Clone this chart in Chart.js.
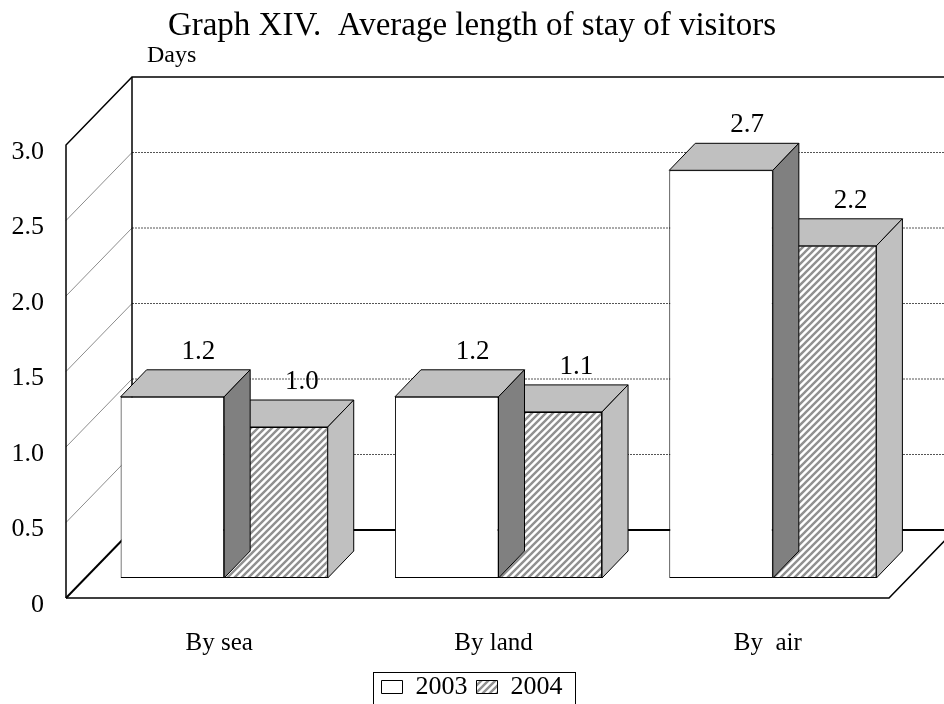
<!DOCTYPE html>
<html>
<head>
<meta charset="utf-8">
<script src="https://cdn.jsdelivr.net/npm/chart.js@4.4.1/dist/chart.umd.min.js"></script>
<style>
  html, body { margin: 0; padding: 0; background: #fff; }
  canvas { display: block; }
</style>
</head>
<body>
<canvas id="chart" width="944" height="704"></canvas>
<script>
// Average length of stay (days) by mode of arrival
const categories = ['By sea', 'By land', 'By  air'];
const stay2003 = [1.2, 1.2, 2.7];
const stay2004 = [1.0, 1.1, 2.2];
const seriesNames = ['2003', '2004'];
const yTickLabels = ['0', '0.5', '1.0', '1.5', '2.0', '2.5', '3.0'];

const SERIF = '"Liberation Serif", "Times New Roman", serif';

// 3-D geometry, in pixels, relative to the plane of the bar fronts
const DEPTH = { x: 26, y: -27 };   // depth of each bar
const FRONT = { x: -21, y: 20 };   // front edge of the floor / side wall
const BACK = { x: 45, y: -48 };    // back wall

function hatchPattern() {
  const s = 7;
  const c = document.createElement('canvas');
  c.width = s; c.height = s;
  const g = c.getContext('2d');
  g.fillStyle = '#ffffff';
  g.fillRect(0, 0, s, s);
  g.strokeStyle = '#909090';
  g.lineWidth = 2.4;
  g.beginPath();
  g.moveTo(-1, 1); g.lineTo(1, -1);
  g.moveTo(-1, s + 1); g.lineTo(s + 1, -1);
  g.moveTo(s - 1, s + 1); g.lineTo(s + 1, s - 1);
  g.stroke();
  return g.createPattern(c, 'repeat');
}

function line(ctx, x1, y1, x2, y2) {
  ctx.beginPath();
  ctx.moveTo(x1, y1);
  ctx.lineTo(x2, y2);
  ctx.stroke();
}

// side wall, back wall, floor and their gridlines
const wallsPlugin = {
  id: 'walls',
  beforeDatasetsDraw(chart) {
    const { ctx, chartArea: a, scales: { y } } = chart;
    const W = chart.width;
    const fx = a.left + FRONT.x;
    const bx = a.left + BACK.x;
    const yF = v => y.getPixelForValue(v) + FRONT.y;
    const yB = v => y.getPixelForValue(v) + BACK.y;
    ctx.save();
    ctx.lineWidth = 1;
    y.ticks.forEach(t => {
      const v = t.value;
      if (v <= y.min || v >= y.max) return;
      ctx.strokeStyle = '#8c8c8c';
      ctx.setLineDash([]);
      line(ctx, fx, yF(v), bx, yB(v));
      ctx.strokeStyle = '#555555';
      ctx.setLineDash([2, 1]);
      line(ctx, bx, yB(v), W, yB(v));
    });
    ctx.setLineDash([]);
    ctx.strokeStyle = '#000000';
    ctx.lineWidth = 1.5;
    // side wall outline
    ctx.beginPath();
    ctx.moveTo(fx, yF(0));
    ctx.lineTo(fx, yF(y.max));
    ctx.lineTo(bx, yB(y.max));
    ctx.lineTo(W, yB(y.max));
    ctx.stroke();
    line(ctx, bx, yB(y.max), bx, yB(0));
    // floor
    const rx = a.right + FRONT.x;
    ctx.beginPath();
    ctx.moveTo(fx, yF(0));
    ctx.lineTo(rx, yF(0));
    ctx.lineTo(rx + (BACK.x - FRONT.x), yF(0) + (BACK.y - FRONT.y));
    ctx.stroke();
    ctx.lineWidth = 2;
    line(ctx, fx, yF(0), bx, yB(0));
    line(ctx, bx, yB(0), W, yB(0));
    ctx.restore();
  }
};

// top and side faces of each bar
const barDepthPlugin = {
  id: 'barDepth',
  afterDatasetDraw(chart, args) {
    const { ctx } = chart;
    const sideColor = args.index === 0 ? '#808080' : '#c0c0c0';
    ctx.save();
    ctx.lineWidth = 1;
    ctx.strokeStyle = '#000000';
    ctx.lineJoin = 'miter';
    args.meta.data.forEach(el => {
      const p = el.getProps(['x', 'y', 'base', 'width'], true);
      const l = p.x - p.width / 2, r = p.x + p.width / 2;
      // top
      ctx.beginPath();
      ctx.moveTo(l, p.y);
      ctx.lineTo(l + DEPTH.x, p.y + DEPTH.y);
      ctx.lineTo(r + DEPTH.x, p.y + DEPTH.y);
      ctx.lineTo(r, p.y);
      ctx.closePath();
      ctx.fillStyle = '#c0c0c0';
      ctx.fill();
      ctx.stroke();
      // side
      ctx.beginPath();
      ctx.moveTo(r, p.y);
      ctx.lineTo(r + DEPTH.x, p.y + DEPTH.y);
      ctx.lineTo(r + DEPTH.x, p.base + DEPTH.y);
      ctx.lineTo(r, p.base);
      ctx.closePath();
      ctx.fillStyle = sideColor;
      ctx.fill();
      ctx.stroke();
    });
    ctx.restore();
  }
};

// value labels, unit label and legend frame
const labelsPlugin = {
  id: 'labels',
  afterDatasetsDraw(chart) {
    const { ctx } = chart;
    ctx.save();
    ctx.fillStyle = '#000000';
    ctx.font = '27px ' + SERIF;
    ctx.textAlign = 'center';
    ctx.textBaseline = 'alphabetic';
    chart.data.datasets.forEach((ds, i) => {
      chart.getDatasetMeta(i).data.forEach((el, j) => {
        ctx.fillText(ds.data[j].toFixed(1), el.x + DEPTH.x, el.y + DEPTH.y - 11);
      });
    });
    ctx.restore();
  },
  afterDraw(chart) {
    const { ctx } = chart;
    ctx.save();
    ctx.fillStyle = '#000000';
    ctx.font = '24px ' + SERIF;
    ctx.textAlign = 'left';
    ctx.textBaseline = 'alphabetic';
    ctx.fillText('Days', 147, 62);
    const boxes = chart.legend.legendHitBoxes;
    if (boxes && boxes.length) {
      const first = boxes[0], last = boxes[boxes.length - 1];
      const x0 = first.left - 9;
      const x1 = last.left + last.width + 12;
      const y0 = chart.legend.top + 7;
      ctx.strokeStyle = '#000000';
      ctx.lineWidth = 1;
      ctx.strokeRect(Math.round(x0) + 0.5, Math.round(y0) + 0.5, Math.round(x1 - x0), 60);
    }
    ctx.restore();
  }
};

new Chart(document.getElementById('chart'), {
  type: 'bar',
  data: {
    labels: categories,
    datasets: [
      {
        label: seriesNames[0],
        data: stay2003,
        backgroundColor: '#ffffff',
        borderColor: '#000000',
        borderWidth: 1,
        borderSkipped: false
      },
      {
        label: seriesNames[1],
        data: stay2004,
        backgroundColor: hatchPattern(),
        borderColor: '#000000',
        borderWidth: 1,
        borderSkipped: false
      }
    ]
  },
  options: {
    responsive: false,
    animation: false,
    devicePixelRatio: 1,
    layout: { padding: { left: 0, right: 0, top: 0, bottom: -6 } },
    datasets: { bar: { categoryPercentage: 0.755, barPercentage: 1.0 } },
    scales: {
      x: {
        grid: { display: false, drawTicks: false },
        border: { display: false },
        ticks: {
          color: '#000000',
          font: { family: SERIF, size: 25 },
          padding: 50,
          labelOffset: -5,
          maxRotation: 0
        },
        afterFit(s) { s.height = 87; }
      },
      y: {
        min: 0,
        max: 3,
        grid: { display: false, drawTicks: false },
        border: { display: false },
        ticks: {
          stepSize: 0.5,
          color: '#000000',
          font: { family: SERIF, size: 26 },
          padding: 43,
          labelOffset: 27,
          callback: (v, i) => yTickLabels[i]
        },
        afterFit(s) { s.width = 87; }
      },
      // blank margin on the right, where the floor runs off to the back wall
      yRight: {
        position: 'right',
        grid: { display: false, drawTicks: false },
        border: { display: false },
        ticks: { display: false },
        afterFit(s) { s.width = 34; }
      }
    },
    plugins: {
      title: {
        display: true,
        text: 'Graph XIV.  Average length of stay of visitors',
        color: '#000000',
        font: { family: SERIF, size: 33, weight: 'normal' },
        padding: { top: 7, bottom: 78.4 }
      },
      legend: {
        display: true,
        position: 'bottom',
        labels: {
          color: '#000000',
          font: { family: SERIF, size: 26 },
          boxWidth: 21,
          boxHeight: 13,
          padding: 9
        }
      },
      tooltip: { enabled: false }
    }
  },
  plugins: [wallsPlugin, barDepthPlugin, labelsPlugin]
});
</script>
</body>
</html>
